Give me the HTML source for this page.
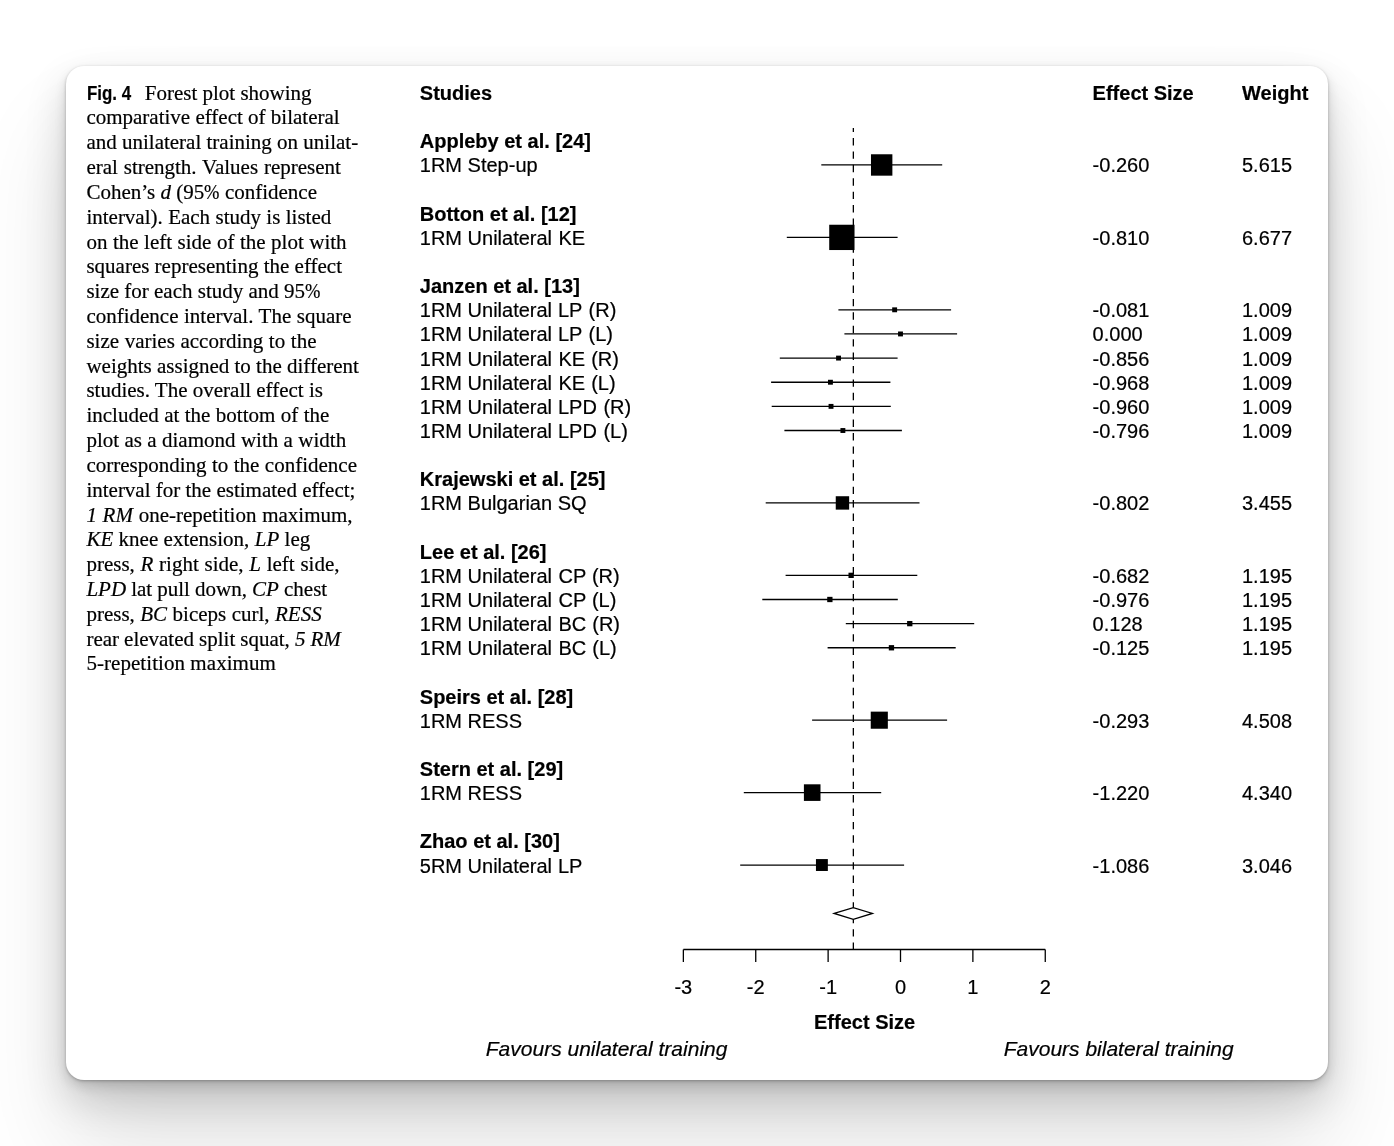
<!DOCTYPE html>
<html lang="en">
<head>
<meta charset="utf-8">
<title>Fig. 4 Forest plot</title>
<style>
html,body{margin:0;padding:0;}
.fig{margin:0;padding:0;}
body{width:1394px;height:1146px;overflow:hidden;background:#fff;position:relative;}
.card{position:absolute;left:66px;top:66px;width:1262px;height:1014px;border-radius:18px;background:#fff;
  box-shadow:0 1px 3px rgba(0,0,0,.26),0 6px 12px rgba(0,0,0,.135),0 19px 42px rgba(0,0,0,.165),0 65px 95px rgba(0,0,0,.12);}
.cap{position:absolute;left:0;top:0;margin:0;font-family:"Liberation Serif","Times New Roman",serif;font-size:21px;color:#000;}
.cap span.l{position:absolute;white-space:pre;line-height:1;-webkit-text-stroke:.2px #000;}
.cap i{font-style:italic;}
.cap .pc{display:inline-block;width:15.4px;transform:scaleX(.88);transform-origin:0 50%;}
.cap b{font-family:"Liberation Sans",Arial,sans-serif;font-weight:bold;font-size:20.2px;line-height:1;display:inline-block;vertical-align:baseline;transform:scaleX(.837);transform-origin:0 100%;width:52.35px;margin-left:.8px;white-space:pre;}
svg{position:absolute;left:0;top:0;}
svg text{font-family:"Liberation Sans",Arial,Helvetica,sans-serif;font-size:20px;fill:#000;stroke:#000;stroke-width:.2px;}
svg .b{font-weight:bold;}
svg .it{font-style:italic;font-size:21px;}
svg .ln{stroke:#000;stroke-width:1.3;fill:none;}
</style>
</head>
<body>
<figure class="fig">
<div class="card"></div>

<figcaption class="cap">
<span class="l" style="left:86.40px;top:83.00px;"><b>Fig. 4</b> Forest plot showing</span>
<span class="l" style="left:86.40px;top:107.00px;">comparative effect of bilateral</span>
<span class="l" style="left:86.40px;top:132.00px;">and unilateral training on unilat-</span>
<span class="l" style="left:86.40px;top:157.00px;word-spacing:0.60px;">eral strength. Values represent</span>
<span class="l" style="left:86.40px;top:182.00px;">Cohen’s <i>d</i> (95<span class="pc">%</span> confidence</span>
<span class="l" style="left:86.40px;top:207.00px;word-spacing:0.12px;">interval). Each study is listed</span>
<span class="l" style="left:86.40px;top:232.00px;word-spacing:0.26px;">on the left side of the plot with</span>
<span class="l" style="left:86.40px;top:256.00px;">squares representing the effect</span>
<span class="l" style="left:86.40px;top:281.00px;">size for each study and 95<span class="pc">%</span></span>
<span class="l" style="left:86.40px;top:306.00px;word-spacing:0.27px;">confidence interval. The square</span>
<span class="l" style="left:86.40px;top:331.00px;word-spacing:0.38px;">size varies according to the</span>
<span class="l" style="left:86.40px;top:356.00px;">weights assigned to the different</span>
<span class="l" style="left:86.40px;top:380.00px;">studies. The overall effect is</span>
<span class="l" style="left:86.40px;top:405.00px;word-spacing:0.18px;">included at the bottom of the</span>
<span class="l" style="left:86.40px;top:430.00px;word-spacing:0.13px;">plot as a diamond with a width</span>
<span class="l" style="left:86.40px;top:455.00px;word-spacing:0.20px;">corresponding to the confidence</span>
<span class="l" style="left:86.40px;top:480.00px;">interval for the estimated effect;</span>
<span class="l" style="left:86.40px;top:505.00px;word-spacing:0.47px;"><i>1 RM</i> one-repetition maximum,</span>
<span class="l" style="left:86.40px;top:529.00px;word-spacing:0.12px;"><i>KE</i> knee extension, <i>LP</i> leg</span>
<span class="l" style="left:86.40px;top:554.00px;word-spacing:0.48px;">press, <i>R</i> right side, <i>L</i> left side,</span>
<span class="l" style="left:86.40px;top:579.00px;word-spacing:-0.14px;"><i>LPD</i> lat pull down, <i>CP</i> chest</span>
<span class="l" style="left:86.40px;top:604.00px;word-spacing:0.20px;">press, <i>BC</i> biceps curl, <i>RESS</i></span>
<span class="l" style="left:86.40px;top:629.00px;word-spacing:-0.20px;">rear elevated split squat, <i>5 RM</i></span>
<span class="l" style="left:86.40px;top:653.00px;letter-spacing:0.058px;">5-repetition maximum</span>
</figcaption>
<svg width="1394" height="1146" viewBox="0 0 1394 1146" role="img" aria-label="Forest plot">
<path class="ln" d="M853.35 950V128" stroke-dasharray="7.4 6.01"/>
<path class="ln" d="M821.30 164.97H942.20"/>
<rect x="870.98" y="154.27" width="21.40" height="21.40" fill="#000"/>
<path class="ln" d="M786.80 237.39H897.60"/>
<rect x="829.22" y="224.74" width="25.30" height="25.30" fill="#000"/>
<path class="ln" d="M838.40 309.81H951.10"/>
<rect x="892.19" y="307.36" width="4.90" height="4.90" fill="#000"/>
<path class="ln" d="M844.40 333.95H957.10"/>
<rect x="898.05" y="331.50" width="4.90" height="4.90" fill="#000"/>
<path class="ln" d="M779.80 358.09H897.60"/>
<rect x="836.09" y="355.64" width="4.90" height="4.90" fill="#000"/>
<path class="ln" d="M771.10 382.23H890.40"/>
<rect x="827.99" y="379.78" width="4.90" height="4.90" fill="#000"/>
<path class="ln" d="M771.70 406.37H890.80"/>
<rect x="828.57" y="403.92" width="4.90" height="4.90" fill="#000"/>
<path class="ln" d="M784.40 430.51H901.90"/>
<rect x="840.44" y="428.06" width="4.90" height="4.90" fill="#000"/>
<path class="ln" d="M765.70 502.93H919.50"/>
<rect x="835.75" y="496.23" width="13.40" height="13.40" fill="#000"/>
<path class="ln" d="M785.60 575.35H917.30"/>
<rect x="848.49" y="572.70" width="5.30" height="5.30" fill="#000"/>
<path class="ln" d="M762.30 599.49H897.80"/>
<rect x="827.21" y="596.84" width="5.30" height="5.30" fill="#000"/>
<path class="ln" d="M845.80 623.63H974.20"/>
<rect x="907.11" y="620.98" width="5.30" height="5.30" fill="#000"/>
<path class="ln" d="M827.60 647.77H955.70"/>
<rect x="888.80" y="645.12" width="5.30" height="5.30" fill="#000"/>
<path class="ln" d="M812.10 720.19H947.10"/>
<rect x="870.74" y="711.64" width="17.10" height="17.10" fill="#000"/>
<path class="ln" d="M743.80 792.61H881.20"/>
<rect x="803.90" y="784.31" width="16.60" height="16.60" fill="#000"/>
<path class="ln" d="M740.20 865.03H904.10"/>
<rect x="815.95" y="859.08" width="11.90" height="11.90" fill="#000"/>
<path class="ln" d="M834.2 913.4L853.3 907.7L872.4 913.4L853.3 919.3Z" style="fill:#fff"/>
<path class="ln" d="M683.36 949.50H1045.26"/>
<path class="ln" d="M683.36 949.50V962.00"/>
<text x="683.36" y="993.90" text-anchor="middle">-3</text>
<path class="ln" d="M755.74 949.50V962.00"/>
<text x="755.74" y="993.90" text-anchor="middle">-2</text>
<path class="ln" d="M828.12 949.50V962.00"/>
<text x="828.12" y="993.90" text-anchor="middle">-1</text>
<path class="ln" d="M900.50 949.50V962.00"/>
<text x="900.50" y="993.90" text-anchor="middle">0</text>
<path class="ln" d="M972.88 949.50V962.00"/>
<text x="972.88" y="993.90" text-anchor="middle">1</text>
<path class="ln" d="M1045.26 949.50V962.00"/>
<text x="1045.26" y="993.90" text-anchor="middle">2</text>
<text class="b" x="864.6" y="1029.1" text-anchor="middle">Effect Size</text>
<text class="it" x="606.6" y="1055.6" text-anchor="middle">Favours unilateral training</text>
<text class="it" x="1118.7" y="1055.6" text-anchor="middle">Favours bilateral training</text>
<text class="b" x="419.80" y="100.05">Studies</text>
<text class="b" x="419.80" y="148.33">Appleby et al. [24]</text>
<text class="b" x="419.80" y="220.75">Botton et al. [12]</text>
<text class="b" x="419.80" y="293.17">Janzen et al. [13]</text>
<text class="b" x="419.80" y="486.29">Krajewski et al. [25]</text>
<text class="b" x="419.80" y="558.71">Lee et al. [26]</text>
<text class="b" x="419.80" y="703.55">Speirs et al. [28]</text>
<text class="b" x="419.80" y="775.97">Stern et al. [29]</text>
<text class="b" x="419.80" y="848.39">Zhao et al. [30]</text>
<text class="b" x="1092.60" y="100.05">Effect Size</text>
<text class="b" x="1242.00" y="100.05">Weight</text>
<text x="419.80" y="172">1RM Step-up</text>
<text x="1092.60" y="172">-0.260</text>
<text x="1242.00" y="172">5.615</text>
<text x="419.80" y="245">1RM Unilateral<tspan dx="0.9"> KE</tspan></text>
<text x="1092.60" y="245">-0.810</text>
<text x="1242.00" y="245">6.677</text>
<text x="419.80" y="317">1RM Unilateral<tspan dx="0.3"> LP</tspan><tspan dx="1.0"> (R)</tspan></text>
<text x="1092.60" y="317">-0.081</text>
<text x="1242.00" y="317">1.009</text>
<text x="419.80" y="341">1RM Unilateral<tspan dx="0.3"> LP</tspan><tspan dx="1.0"> (L)</tspan></text>
<text x="1092.60" y="341">0.000</text>
<text x="1242.00" y="341">1.009</text>
<text x="419.80" y="366">1RM Unilateral<tspan dx="0.9"> KE</tspan><tspan dx="0.4"> (R)</tspan></text>
<text x="1092.60" y="366">-0.856</text>
<text x="1242.00" y="366">1.009</text>
<text x="419.80" y="390">1RM Unilateral<tspan dx="0.9"> KE</tspan><tspan dx="0.4"> (L)</tspan></text>
<text x="1092.60" y="390">-0.968</text>
<text x="1242.00" y="390">1.009</text>
<text x="419.80" y="414">1RM Unilateral<tspan dx="0.3"> LPD</tspan><tspan dx="1.0"> (R)</tspan></text>
<text x="1092.60" y="414">-0.960</text>
<text x="1242.00" y="414">1.009</text>
<text x="419.80" y="438">1RM Unilateral<tspan dx="0.3"> LPD</tspan><tspan dx="1.0"> (L)</tspan></text>
<text x="1092.60" y="438">-0.796</text>
<text x="1242.00" y="438">1.009</text>
<text x="419.80" y="510">1RM Bulgarian SQ</text>
<text x="1092.60" y="510">-0.802</text>
<text x="1242.00" y="510">3.455</text>
<text x="419.80" y="583">1RM Unilateral<tspan dx="0.9"> CP</tspan><tspan dx="0.4"> (R)</tspan></text>
<text x="1092.60" y="583">-0.682</text>
<text x="1242.00" y="583">1.195</text>
<text x="419.80" y="607">1RM Unilateral<tspan dx="0.9"> CP</tspan><tspan dx="0.4"> (L)</tspan></text>
<text x="1092.60" y="607">-0.976</text>
<text x="1242.00" y="607">1.195</text>
<text x="419.80" y="631">1RM Unilateral<tspan dx="0.9"> BC</tspan><tspan dx="0.4"> (R)</tspan></text>
<text x="1092.60" y="631">0.128</text>
<text x="1242.00" y="631">1.195</text>
<text x="419.80" y="655">1RM Unilateral<tspan dx="0.9"> BC</tspan><tspan dx="0.4"> (L)</tspan></text>
<text x="1092.60" y="655">-0.125</text>
<text x="1242.00" y="655">1.195</text>
<text x="419.80" y="728">1RM RESS</text>
<text x="1092.60" y="728">-0.293</text>
<text x="1242.00" y="728">4.508</text>
<text x="419.80" y="800">1RM RESS</text>
<text x="1092.60" y="800">-1.220</text>
<text x="1242.00" y="800">4.340</text>
<text x="419.80" y="873">5RM Unilateral<tspan dx="0.3"> LP</tspan></text>
<text x="1092.60" y="873">-1.086</text>
<text x="1242.00" y="873">3.046</text>
</svg>
</figure>
</body>
</html>
